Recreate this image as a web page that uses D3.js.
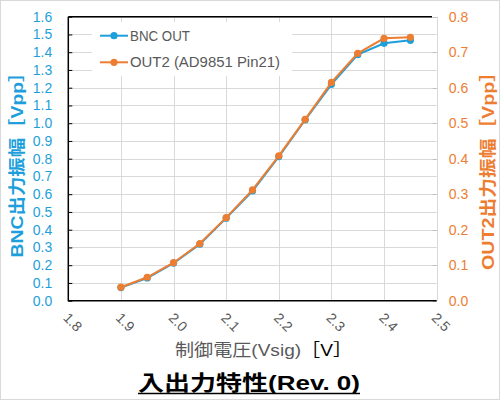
<!DOCTYPE html>
<html><head><meta charset="utf-8">
<script src="https://cdn.jsdelivr.net/npm/d3@7"></script>
<style>body{margin:0;background:#fff}svg{display:block}</style>
</head><body><svg id="c" width="500" height="400"></svg>
<script>
const xValues = [1.9, 1.95, 2.0, 2.05, 2.1, 2.15, 2.2, 2.25, 2.3, 2.35, 2.4, 2.45];
const bncOut = [0.074, 0.128, 0.212, 0.318, 0.465, 0.618, 0.812, 1.018, 1.219, 1.386, 1.450, 1.467];
const out2 = [0.038, 0.066, 0.107, 0.161, 0.234, 0.312, 0.408, 0.511, 0.615, 0.697, 0.739, 0.742];
const xTicks = [1.8, 1.9, 2.0, 2.1, 2.2, 2.3, 2.4, 2.5];
const yLeftTicks = [0,0.1,0.2,0.3,0.4,0.5,0.6,0.7,0.8,0.9,1.0,1.1,1.2,1.3,1.4,1.5,1.6];
const yRightTicks = [0,0.1,0.2,0.3,0.4,0.5,0.6,0.7,0.8];
const seriesNames = ["BNC OUT", "OUT2 (AD9851 Pin21)"];
const title = "入出力特性(Rev. 0)";
const xTitle = ["制御電圧(Vsig)", "［V］"];
const yLeftTitle = "BNC出力振幅［Vpp］";
const yRightTitle = "OUT2出力振幅［Vpp］";

const BLUE = "#1E9FDB", ORANGE = "#ED7D31", GRAY = "#595959", GRID = "#d9d9d9";
const FONT = "'Liberation Sans', Arial, 'Noto Sans CJK JP', sans-serif";
const L = 68.3, R = 436.7, T = 16.7, B = 300.7;

const svg = d3.select("#c").style("font-family", FONT);
const x = d3.scaleLinear().domain([1.8, 2.5]).range([L, R]);
const yL = d3.scaleLinear().domain([0, 1.6]).range([B, T]);
const yR = d3.scaleLinear().domain([0, 0.8]).range([B, T]);

svg.append("rect").attr("x",0.5).attr("y",0.5).attr("width",499).attr("height",399)
  .attr("fill","#fff").attr("stroke",GRID);

// gridlines
const g = svg.append("g");
g.selectAll(".hg").data(yLeftTicks.slice(1)).join("line")
  .attr("x1", L).attr("x2", R).attr("y1", d => Math.round(yL(d))+0.5).attr("y2", d => Math.round(yL(d))+0.5)
  .attr("stroke", GRID);
g.selectAll(".vg").data(xTicks.slice(1)).join("line")
  .attr("y1", T).attr("y2", B).attr("x1", d => Math.round(x(d))+0.5).attr("x2", d => Math.round(x(d))+0.5)
  .attr("stroke", GRID);

// legend background
svg.append("rect").attr("x",92).attr("y",22).attr("width",200).attr("height",54).attr("fill","#fff");

// right axis ticks (gray, inward)
svg.append("g").selectAll("line").data(yRightTicks).join("line")
  .attr("x1", R-4).attr("x2", R).attr("y1", d => Math.round(yR(d))+0.5).attr("y2", d => Math.round(yR(d))+0.5)
  .attr("stroke", "#bfbfbf");

// axes lines
svg.append("line").attr("x1",L).attr("x2",L).attr("y1",T).attr("y2",B+0.5).attr("stroke","#000").attr("stroke-width",1.5);
svg.append("line").attr("x1",L).attr("x2",R).attr("y1",B).attr("y2",B).attr("stroke","#000").attr("stroke-width",1.5);
svg.append("line").attr("x1",L).attr("x2",432).attr("y1",T).attr("y2",T).attr("stroke","#000").attr("stroke-width",1.5);

// left axis
const axL = svg.append("g").attr("transform", `translate(${L},0)`)
  .call(d3.axisLeft(yL).tickValues(yLeftTicks).tickFormat(d3.format(".1f")).tickSizeInner(-4).tickSizeOuter(0).tickPadding(16));
axL.select(".domain").remove();
axL.selectAll("line").attr("stroke","#000").attr("stroke-width",1);
axL.selectAll("text").attr("fill", BLUE).style("font-size","14px").style("font-family",FONT);

// right axis
const axR = svg.append("g").attr("transform", `translate(${R},0)`)
  .call(d3.axisRight(yR).tickValues(yRightTicks).tickFormat(d3.format(".1f")).tickSize(0).tickPadding(12));
axR.select(".domain").remove();
axR.selectAll("text").attr("fill", ORANGE).style("font-size","14px").style("font-family",FONT);

// x axis labels (rotated)
svg.append("g").selectAll("text").data(xTicks).join("text")
  .attr("transform", d => `translate(${x(d)+4.5},${322}) rotate(45)`)
  .attr("text-anchor","middle").attr("dominant-baseline","central")
  .attr("fill", GRAY).style("font-size","14px")
  .text(d => d3.format(".1f")(d));

// series
const lineL = d3.line().x((d,i) => x(xValues[i])).y(d => yL(d));
const lineR = d3.line().x((d,i) => x(xValues[i])).y(d => yR(d));
svg.append("path").attr("d", lineL(bncOut)).attr("fill","none").attr("stroke",BLUE).attr("stroke-width",2);
svg.append("g").selectAll("circle").data(bncOut).join("circle")
  .attr("cx",(d,i)=>x(xValues[i])).attr("cy",d=>yL(d)).attr("r",3.6).attr("fill",BLUE);
svg.append("path").attr("d", lineR(out2)).attr("fill","none").attr("stroke",ORANGE).attr("stroke-width",2);
svg.append("g").selectAll("circle").data(out2).join("circle")
  .attr("cx",(d,i)=>x(xValues[i])).attr("cy",d=>yR(d)).attr("r",3.6).attr("fill",ORANGE);

// legend
const legY = [35.7, 62.3];
const legColors = [BLUE, ORANGE];
const legW = [60, 150];
seriesNames.forEach((name, i) => {
  svg.append("line").attr("x1",100).attr("x2",128).attr("y1",legY[i]).attr("y2",legY[i]).attr("stroke",legColors[i]).attr("stroke-width",2);
  svg.append("circle").attr("cx",114).attr("cy",legY[i]).attr("r",3.6).attr("fill",legColors[i]);
  svg.append("text").attr("x",130).attr("y",legY[i]).attr("dominant-baseline","central")
    .attr("fill",GRAY).style("font-size","14px").attr("textLength",legW[i]).attr("lengthAdjust","spacingAndGlyphs").text(name);
});

// axis titles
svg.append("text").attr("transform","translate(17,160) rotate(-90)")
  .attr("text-anchor","middle").attr("dominant-baseline","central")
  .attr("fill",BLUE).style("font-size","17px").style("font-weight","bold")
  .attr("textLength",195).attr("lengthAdjust","spacingAndGlyphs").text(yLeftTitle);
svg.append("text").attr("transform","translate(488,166) rotate(-90)")
  .attr("text-anchor","middle").attr("dominant-baseline","central")
  .attr("fill",ORANGE).style("font-size","17px").style("font-weight","bold")
  .attr("textLength",208).attr("lengthAdjust","spacingAndGlyphs").text(yRightTitle);

const xt = svg.append("text").attr("x",175).attr("y",356)
  .style("font-size","17px").attr("textLength",177).attr("lengthAdjust","spacingAndGlyphs");
xt.append("tspan").attr("fill",GRAY).text(xTitle[0]);
xt.append("tspan").attr("fill","#000").text(xTitle[1]);

// title
svg.append("text").attr("x",138).attr("y",390)
  .style("font-size","21px").style("font-weight","bold").attr("fill","#000")
  .attr("textLength",222).attr("lengthAdjust","spacingAndGlyphs").text(title);
svg.append("line").attr("x1",138).attr("x2",360).attr("y1",393.5).attr("y2",393.5).attr("stroke","#000").attr("stroke-width",1.5);
</script></body></html>
